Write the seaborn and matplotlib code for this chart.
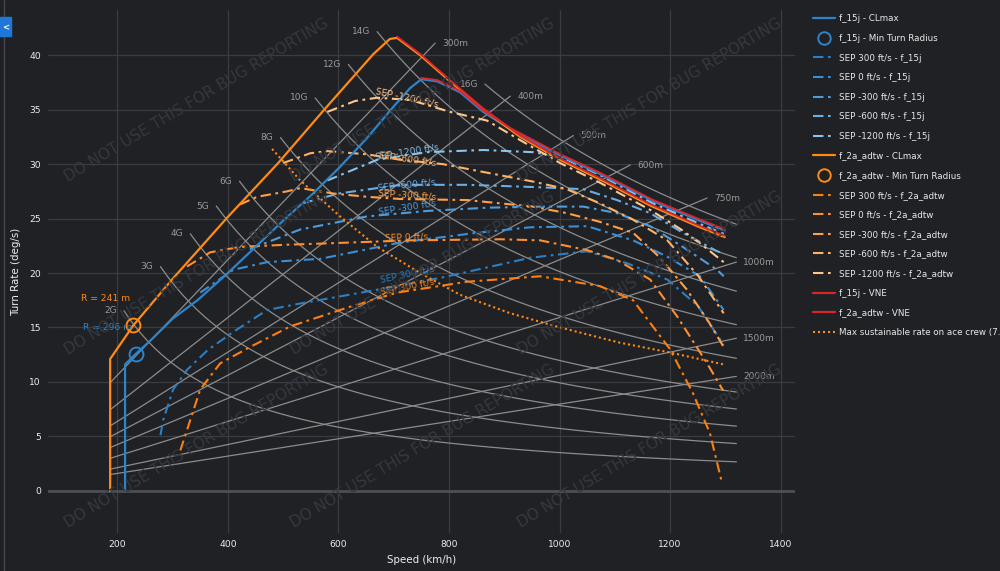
import numpy as np
import matplotlib
matplotlib.use("Agg")
import matplotlib.pyplot as plt
import seaborn as sns
from matplotlib.lines import Line2D

# ---------------- data (speed km/h, turn rate deg/s) ----------------
f15_clmax_v = [214, 214, 234, 260, 300, 345, 400, 450, 500, 550, 600, 650, 700, 730, 750, 779, 820, 862, 911, 1001, 1073, 1169, 1254, 1299]
f15_clmax_w = [0, 11.6, 12.6, 13.8, 15.8, 17.5, 20.0, 22.4, 24.8, 27.1, 29.6, 32.3, 35.3, 37.0, 37.8, 37.6, 36.6, 34.8, 33.2, 30.8, 29.1, 26.6, 24.8, 23.9]
f2a_clmax_v = [187, 187, 229, 299, 399, 491, 576, 663, 693, 706, 748, 802, 862, 929, 1001, 1073, 1164, 1254, 1299]
f2a_clmax_w = [0, 12.1, 15.2, 19.4, 25.1, 30.1, 35.1, 40.1, 41.5, 41.6, 40.0, 37.6, 35.0, 32.5, 30.4, 28.6, 26.2, 24.2, 23.3]

f15_vne_v = [750, 779, 820, 862, 911, 1001, 1073, 1169, 1254, 1299]
f15_vne_w = [37.8, 37.6, 36.6, 34.8, 33.2, 30.8, 29.1, 26.6, 24.8, 23.9]
f2a_vne_v = [706, 748, 802, 862, 929, 1001, 1073, 1164, 1254, 1299]
f2a_vne_w = [41.6, 40.0, 37.6, 35.0, 32.5, 30.4, 28.6, 26.2, 24.2, 23.3]

f15_minr = (233, 12.6)
f2a_minr = (229, 15.2)

sep_levels = ["300", "0", "-300", "-600", "-1200"]

f15_sep_v = [
    [278, 283, 301, 326, 363, 410, 471, 531, 652, 789, 947, 1050, 1122, 1195, 1250, 1297],
    [350, 410, 471, 567, 712, 851, 947, 1050, 1133, 1195, 1254, 1297],
    [440, 531, 652, 760, 870, 965, 1043, 1104, 1164, 1223, 1285, 1297],
    [535, 600, 712, 833, 952, 1043, 1104, 1164, 1223, 1285, 1297],
    [580, 670, 760, 862, 952, 1001, 1073, 1169, 1254, 1297],
]
f15_sep_w = [
    [5.1, 6.5, 9.3, 11.1, 12.9, 14.6, 16.6, 17.2, 18.3, 19.6, 21.4, 22.0, 20.9, 19.4, 17.0, 13.4],
    [18.2, 20.3, 21.0, 21.3, 22.8, 23.7, 24.2, 24.3, 23.0, 21.5, 19.7, 16.6],
    [22.2, 24.0, 25.2, 25.7, 26.0, 26.1, 26.1, 25.5, 24.3, 22.4, 20.3, 19.7],
    [26.4, 27.3, 28.1, 28.1, 27.9, 27.7, 26.7, 25.5, 23.7, 22.0, 21.8],
    [28.5, 30.4, 31.1, 31.3, 31.1, 30.7, 29.0, 26.4, 24.5, 23.6],
]
f2a_sep_v = [
    [314, 323, 350, 386, 440, 513, 621, 706, 833, 965, 1073, 1133, 1200, 1241, 1272, 1294],
    [326, 368, 422, 507, 567, 730, 893, 965, 1050, 1104, 1164, 1213, 1267, 1296],
    [422, 453, 507, 531, 591, 652, 712, 833, 952, 1013, 1073, 1133, 1180, 1230, 1270, 1297],
    [500, 549, 580, 652, 712, 789, 911, 952, 1013, 1073, 1133, 1195, 1250, 1297],
    [580, 630, 670, 730, 802, 869, 929, 1001, 1073, 1164, 1220, 1260, 1297],
]
f2a_sep_w = [
    [3.7, 5.1, 9.3, 11.7, 13.2, 15.1, 16.9, 18.2, 19.2, 19.7, 18.8, 17.5, 13.0, 9.0, 5.3, 0.7],
    [20.6, 21.9, 22.4, 22.6, 22.7, 23.0, 23.1, 23.0, 22.1, 21.2, 19.4, 16.0, 11.7, 9.2],
    [26.3, 27.0, 27.5, 27.8, 27.3, 27.0, 26.8, 26.7, 26.1, 25.5, 24.7, 23.7, 21.5, 18.5, 15.5, 13.2],
    [30.1, 31.0, 31.2, 30.9, 30.4, 30.0, 28.8, 28.4, 27.7, 26.4, 24.9, 23.0, 19.8, 16.3],
    [34.8, 35.8, 36.1, 35.9, 34.8, 34.0, 32.2, 30.1, 28.3, 25.8, 24.0, 22.5, 21.0],
]

ace_v = [480, 531, 603, 670, 748, 820, 911, 1001, 1109, 1200, 1297]
ace_w = [31.4, 28.5, 25.2, 22.4, 20.0, 18.0, 16.3, 15.0, 13.6, 12.7, 11.6]

# guide grid: load factor lines and turn radius lines
g_levels = [2, 3, 4, 5, 6, 8, 10, 12, 14, 16]
g_start_v = [212, 278, 332, 379, 421, 495, 558, 618, 670, 865]
g_end_v = 1320
radii_m = [300, 400, 500, 600, 750, 1000, 1500, 2000]
radius_start_v = 187
radius_end_v = [775, 911, 1025, 1128, 1267, 1320, 1320, 1320]

# ---------------- style ----------------
BG = "#1f2125"
GRID = "#3a3c41"
TXT = "#eeeeee"
GUIDE = "#8c8c8c"
BLUE = "#2d84c9"
ORANGE = "#ff8a14"
RED = "#d9262c"
blue_sep = ["#2b7fc2", "#3a8fd6", "#4f9cdc", "#6aaee2", "#8ac3ec"]
orange_sep = ["#ff7f0e", "#ff8e2b", "#ffa046", "#ffb264", "#ffc68c"]
SEP_LS = (0, (5, 2.2, 1.3, 2.2))

sns.set_theme(style="darkgrid", rc={
    "axes.facecolor": BG, "figure.facecolor": BG, "grid.color": GRID,
    "axes.edgecolor": BG, "text.color": TXT, "xtick.color": TXT,
    "ytick.color": TXT, "axes.labelcolor": TXT,
})
plt.rcParams["font.family"] = ["DejaVu Sans"]

fig = plt.figure(figsize=(10, 5.71), dpi=100)
ax = fig.add_axes([0.048, 0.066, 0.747, 0.9165])
ax.set_xlim(74.6, 1426)
ax.set_ylim(-3.91, 44.16)
ax.grid(True, color=GRID, lw=0.9)
ax.axhline(0, color="#4c4f54", lw=2, zorder=1)

# watermark
for cy in [100, 273, 446]:
    for cx in [197, 423, 650]:
        fig.text(cx / 1000, 1 - cy / 571, "DO NOT USE THIS FOR BUG REPORTING", rotation=30.8,
                 ha="center", va="center", fontsize=11, color="#35383d", zorder=0)


def ms(v):
    return np.asarray(v, float) / 3.6


# load factor guide lines
for n, v0 in zip(g_levels, g_start_v):
    v = np.linspace(v0, g_end_v, 80)
    w = np.degrees(9.81 * np.sqrt(n ** 2 - 1) / ms(v))
    ax.plot(v, w, color=GUIDE, lw=0.9, zorder=2)
    ax.annotate(f"{n}G", xy=(v[0], w[0]), xytext=(-5, 0), textcoords="offset points",
                ha="right", va="center", fontsize=6.5, color="#9a9a9a")

# turn radius guide lines
for r, v1 in zip(radii_m, radius_end_v):
    v = np.array([radius_start_v, v1])
    w = np.degrees(ms(v) / r)
    ax.plot(v, w, color=GUIDE, lw=0.9, zorder=2)
    ax.annotate(f"{r}m", xy=(v[1], w[1]), xytext=(5, 0), textcoords="offset points",
                ha="left", va="center", fontsize=6.5, color="#9a9a9a")


def draw(v, w, **kw):
    sns.lineplot(x=v, y=w, ax=ax, sort=False, estimator=None, legend=False, **kw)


handles, labels = [], []

draw(f15_clmax_v, f15_clmax_w, color=BLUE, lw=1.6, zorder=5)
handles.append(Line2D([], [], color=BLUE, lw=1.6)); labels.append("f_15j - CLmax")
ax.plot(*f15_minr, marker="o", ms=10, mfc="none", mec=BLUE, mew=1.4, zorder=6)
handles.append(Line2D([], [], ls="none", marker="o", ms=9, mfc="none", mec=BLUE, mew=1.4))
labels.append("f_15j - Min Turn Radius")
for lvl, v, w, c in zip(sep_levels, f15_sep_v, f15_sep_w, blue_sep):
    draw(v, w, color=c, lw=1.5, linestyle=SEP_LS, zorder=4)
    handles.append(Line2D([], [], color=c, lw=1.5, linestyle=SEP_LS))
    labels.append(f"SEP {lvl} ft/s - f_15j")

draw(f2a_clmax_v, f2a_clmax_w, color=ORANGE, lw=1.6, zorder=5)
handles.append(Line2D([], [], color=ORANGE, lw=1.6)); labels.append("f_2a_adtw - CLmax")
ax.plot(*f2a_minr, marker="o", ms=10, mfc="none", mec=ORANGE, mew=1.4, zorder=6)
handles.append(Line2D([], [], ls="none", marker="o", ms=9, mfc="none", mec=ORANGE, mew=1.4))
labels.append("f_2a_adtw - Min Turn Radius")
for lvl, v, w, c in zip(sep_levels, f2a_sep_v, f2a_sep_w, orange_sep):
    draw(v, w, color=c, lw=1.5, linestyle=SEP_LS, zorder=4)
    handles.append(Line2D([], [], color=c, lw=1.5, linestyle=SEP_LS))
    labels.append(f"SEP {lvl} ft/s - f_2a_adtw")

draw(f15_vne_v, np.array(f15_vne_w) + 0.12, color=RED, lw=1.3, zorder=6)
handles.append(Line2D([], [], color=RED, lw=1.6)); labels.append("f_15j - VNE")
draw(f2a_vne_v, np.array(f2a_vne_w) + 0.12, color=RED, lw=1.3, zorder=6)
handles.append(Line2D([], [], color=RED, lw=1.6)); labels.append("f_2a_adtw - VNE")

draw(ace_v, ace_w, color=ORANGE, lw=1.5, linestyle=(0, (1, 1.4)), zorder=4)
handles.append(Line2D([], [], color=ORANGE, lw=1.5, linestyle=(0, (1, 1.4))))
labels.append("Max sustainable rate on ace crew (7.5G)")

# SEP curve labels (position in data coords, rotation)
sep_text = [
    ("SEP -1200 ft/s", 724, 36.1, -12, orange_sep[4]),
    ("SEP -1200 ft/s", 724, 31.1, 9, blue_sep[4]),
    ("SEP -600 ft/s", 724, 30.5, -8, orange_sep[3]),
    ("SEP -600 ft/s", 724, 28.1, 6, blue_sep[3]),
    ("SEP -300 ft/s", 724, 27.2, -4, orange_sep[2]),
    ("SEP -300 ft/s", 724, 26.0, 9, blue_sep[2]),
    ("SEP 0 ft/s", 724, 23.3, 2, orange_sep[1]),
    ("SEP 300 ft/s", 724, 19.9, 12, blue_sep[0]),
    ("SEP 300 ft/s", 724, 18.7, 11, orange_sep[0]),
]
for t, x, y, rot, c in sep_text:
    ax.text(x, y, t, rotation=rot, ha="center", va="center", fontsize=6.6, color=c, zorder=7)

ax.text(178, 17.7, "R = 241 m", ha="center", va="center", fontsize=6.6, color=ORANGE, zorder=7)
ax.text(183, 15.0, "R = 296 m", ha="center", va="center", fontsize=6.6, color=BLUE, zorder=7)

ax.set_xticks([200, 400, 600, 800, 1000, 1200, 1400])
ax.set_yticks([0, 5, 10, 15, 20, 25, 30, 35, 40])
ax.tick_params(length=0, labelsize=6.6, pad=5)
ax.set_xlabel("Speed (km/h)", fontsize=7.4, labelpad=4)
ax.set_ylabel("Turn Rate (deg/s)", fontsize=7.4, labelpad=6)
for s in ax.spines.values():
    s.set_visible(False)

fig.legend(handles, labels, loc="upper left", bbox_to_anchor=(0.809, 0.9825),
           frameon=False, fontsize=6.3, handlelength=2.5, handletextpad=0.4,
           labelspacing=1.21, borderpad=0, labelcolor="#e8e8e8")

# side panel toggle
fig.add_artist(plt.Rectangle((0, 1 - 36 / 571), 0.011, 19 / 571, transform=fig.transFigure,
                             color="#1f78d8", zorder=10))
fig.text(0.0055, 1 - 27.5 / 571, "<", ha="center", va="center", fontsize=6, color="white",
         fontweight="bold", zorder=11)
fig.add_artist(Line2D([0.0035, 0.0035], [0, 1], transform=fig.transFigure, color="#44474c", lw=1))

fig.savefig("out.png", dpi=100, facecolor=BG)
